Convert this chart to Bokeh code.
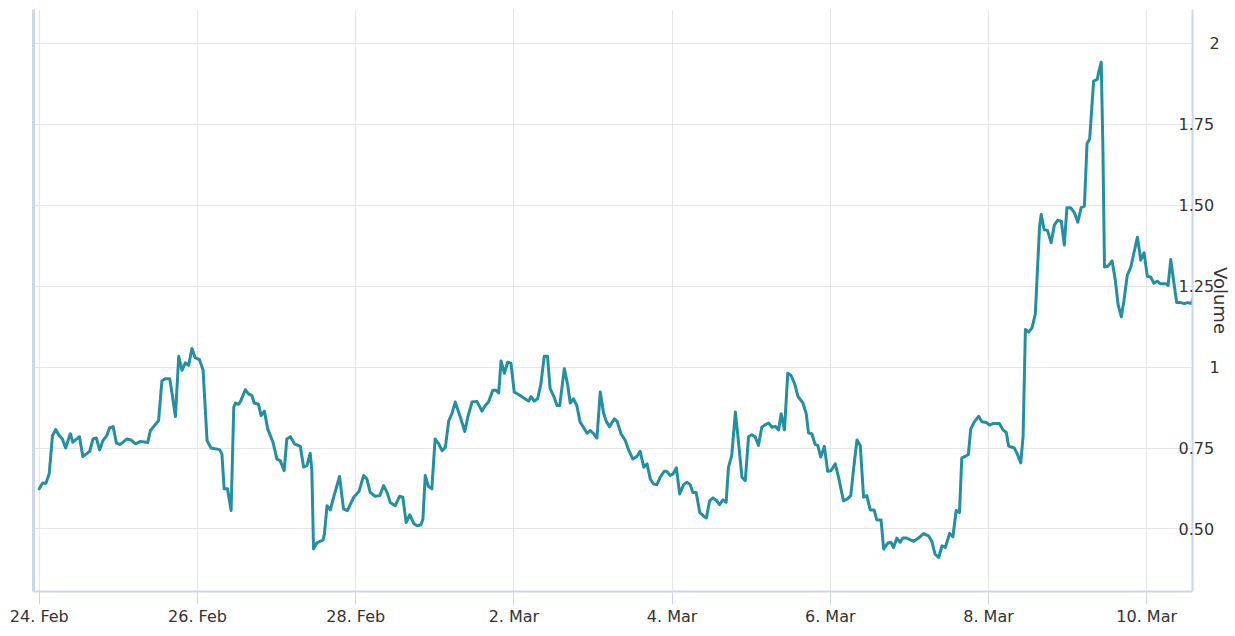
import pandas as pd
from bokeh.plotting import figure
from bokeh.models import Range1d, LinearAxis, FixedTicker
from bokeh.embed import file_html
from bokeh.resources import INLINE

# ---- data (hours since 24 Feb 00:00, volume) ----
start = pd.Timestamp("2023-02-24 00:00")

hours = [
    0, 1, 2, 3, 4, 5, 6, 7, 8, 9.4, 10.2, 12.2, 13.2, 14.3, 15.3, 16.3, 17.3, 18.3, 19.3, 20.5,
    21.3, 22.4, 23.4, 24.6, 26.6, 27.8, 29.2, 30.6, 32.9, 33.7, 34.7, 36.2, 37.2, 38.2, 39.6, 40.3,
    41.3, 42.3, 43.3, 44.3, 45.3, 46.3, 47.3, 48.6, 49.7, 50.9, 52.1, 54.7, 55.4, 56.1, 57.1, 58.2,
    59.0, 59.5, 60.5, 61.2, 62.5, 63.5, 64.5, 65.2, 66.5, 67.3, 68.3,
    69.3, 70.9, 72.1, 73.1, 74.3, 75.1, 76.2, 77.4, 79.2, 80.2, 81.2, 82.2, 82.7, 83.2, 84.2, 86.1,
    86.5, 87.3, 88.3, 89.3, 91.1, 92.3, 93.5, 95.4, 97.0, 98.4, 99.4, 100.4, 101.9, 103.3, 104.5,
    105.5, 106.5, 108.0, 109.3, 110.3, 111.3, 112.4, 113.6, 114.6, 115.8, 116.4, 117.1, 118.1, 119.1,
    120.1, 121.2, 122.2, 123.2, 124.2, 125.2, 126.2, 127.7, 129.1, 130.0, 131.3, 132.8, 134.3, 135.3,
    136.3,
    137.6, 138.6, 139.4, 140.1, 141.1, 142.1, 143.1, 144.1, 145.9, 147.8, 148.5, 149.2, 150.2, 151.2,
    152.2, 153.2, 154.2, 155.0, 156.0, 157.1, 157.9, 159.3, 160.3, 161.1, 162.1, 163.1, 164.1, 165.1,
    166.2, 167.2, 168.2, 169.2, 170.2, 171.2, 172.0, 173.0, 174.5, 175.3, 176.5, 177.8, 178.8, 180.1,
    181.3, 182.3, 183.4, 184.4, 185.4, 186.4, 187.4, 188.4, 189.6, 190.4, 191.4, 192.3, 193.3, 194.3,
    195.5, 196.5, 197.5, 198.3, 199.3, 200.4, 201.4, 202.4, 203.4, 204.4, 205.4, 206.4,
    207.4, 208.4, 209.1, 210.1, 211.2, 212.2, 213.2, 214.2, 215.2, 216.2, 217.2, 218.2, 219.2, 220.3,
    221.3, 222.3, 223.3, 224.3, 225.1, 226.1, 227.1, 228.1, 229.2, 230.2, 231.7, 232.7, 233.4, 234.4,
    235.4, 236.2, 237.1, 238.2, 239.2, 240.2, 241.5, 242.5, 244.0, 245.2, 246.2, 247.3, 248.1, 249.1,
    250.1, 251.1, 252.1, 253.3, 254.1, 255.4, 256.2, 257.4, 258.4, 259.2, 260.2, 261.2, 262.0, 263.2,
    265.3, 266.8, 268.3, 269.8, 270.8, 271.8, 272.9, 273.9, 274.9, 276.2, 277.2, 278.2, 279.2,
    279.9, 280.9, 281.9, 282.6, 283.6, 285.0, 286.0, 287.3, 288.3, 289.5, 291.3, 292.4, 293.4, 294.1,
    295.8, 296.6, 297.8, 298.5, 299.2, 300.2, 301.2, 302.2, 302.9, 303.5, 304.0, 304.9, 305.9, 307.0,
    308.0, 309.0, 310.1, 311.0, 311.8, 312.9, 314.1, 315.1, 316.1, 317.1, 317.9, 318.7, 319.9, 321.0,
    321.5, 322.2, 322.7, 323.2, 324.2, 325.5, 326.5, 327.3, 328.3, 329.1, 330.1, 331.2, 332.2, 333.2,
    334.2, 335.2, 336.2, 337.2, 338.2, 339.2, 340.2, 341.8, 342.5, 343.3, 344.1, 345.1, 346.3, 347.4,
    348.4, 349.6, 350.2,
]

volume = [
    0.624, 0.642, 0.641, 0.670, 0.789, 0.807, 0.789, 0.778, 0.750, 0.794, 0.768, 0.785, 0.724, 0.732,
    0.740, 0.778, 0.781, 0.744, 0.773, 0.789, 0.812, 0.816, 0.765, 0.761, 0.778, 0.775, 0.763, 0.770,
    0.767, 0.804, 0.816, 0.835, 0.957, 0.964, 0.964, 0.917, 0.847, 1.033, 0.990, 1.013, 1.005, 1.057,
    1.029, 1.023, 0.990, 0.773, 0.750, 0.745, 0.732, 0.624, 0.624, 0.557, 0.876, 0.889, 0.885, 0.897,
    0.930, 0.917, 0.912, 0.889, 0.885, 0.850, 0.864,
    0.809, 0.768, 0.716, 0.711, 0.680, 0.778, 0.785, 0.763, 0.755, 0.691, 0.696, 0.734, 0.680, 0.438,
    0.457, 0.466, 0.484, 0.572, 0.559, 0.598, 0.662, 0.562, 0.557, 0.598, 0.616, 0.665, 0.654, 0.613,
    0.601, 0.603, 0.634, 0.613, 0.582, 0.572, 0.601, 0.598, 0.520, 0.544, 0.517, 0.510, 0.513, 0.531,
    0.665, 0.631, 0.624, 0.778, 0.763, 0.742, 0.752, 0.833, 0.856, 0.892, 0.847, 0.801, 0.845, 0.892,
    0.894, 0.864, 0.881, 0.892,
    0.928, 0.928, 0.920, 1.019, 0.981, 1.015, 1.012, 0.923, 0.912, 0.899, 0.895, 0.909, 0.895, 0.902,
    0.948, 1.033, 1.033, 0.933, 0.912, 0.881, 0.881, 0.995, 0.946, 0.889, 0.902, 0.881, 0.830, 0.814,
    0.796, 0.804, 0.794, 0.781, 0.923, 0.858, 0.833, 0.816, 0.840, 0.833, 0.794, 0.773, 0.744, 0.716,
    0.724, 0.740, 0.691, 0.701, 0.654, 0.639, 0.637, 0.660, 0.678, 0.678, 0.665, 0.670, 0.689, 0.608,
    0.637, 0.644, 0.637, 0.613, 0.613, 0.551, 0.541, 0.534, 0.587, 0.596, 0.589, 0.575,
    0.590, 0.582, 0.690, 0.727, 0.861, 0.763, 0.660, 0.649, 0.785, 0.791, 0.785, 0.758, 0.814, 0.822,
    0.827, 0.814, 0.817, 0.806, 0.856, 0.806, 0.981, 0.974, 0.948, 0.909, 0.889, 0.856, 0.796, 0.794,
    0.761, 0.758, 0.722, 0.755, 0.678, 0.680, 0.701, 0.660, 0.587, 0.593, 0.603, 0.706, 0.775, 0.758,
    0.598, 0.603, 0.559, 0.559, 0.528, 0.528, 0.438, 0.456, 0.459, 0.443, 0.472, 0.459, 0.472, 0.472,
    0.462, 0.472, 0.486, 0.479, 0.462, 0.422, 0.412, 0.448, 0.443, 0.486, 0.476, 0.557, 0.551,
    0.719, 0.724, 0.730, 0.808, 0.829, 0.848, 0.831, 0.829, 0.821, 0.826, 0.826, 0.806, 0.798, 0.756,
    0.750, 0.735, 0.704, 0.787, 1.116, 1.108, 1.121, 1.163, 1.309, 1.434, 1.471, 1.424, 1.422, 1.384,
    1.439, 1.453, 1.450, 1.377, 1.492, 1.492, 1.476, 1.447, 1.492, 1.497, 1.690, 1.704, 1.883, 1.888,
    1.914, 1.941, 1.685, 1.309, 1.311, 1.328, 1.267, 1.194, 1.155, 1.205, 1.283, 1.309, 1.356, 1.401,
    1.330, 1.353, 1.280, 1.278, 1.259, 1.265, 1.257, 1.257, 1.252, 1.332, 1.272, 1.199, 1.199, 1.196,
    1.199, 1.196, 1.215,
]

x_tick_days = [0, 2, 4, 6, 8, 10, 12, 14]
x_tick_labels = ["24. Feb", "26. Feb", "28. Feb", "2. Mar", "4. Mar", "6. Mar", "8. Mar", "10. Mar"]
y_ticks = [0.5, 0.75, 1, 1.25, 1.5, 1.75, 2]
y_tick_labels = ["0.50", "0.75", "1", "1.25", "1.50", "1.75", "2"]
y_title = "Volume"

# ---- derived ----
times = [start + pd.Timedelta(hours=h) for h in hours]
def ms(ts):
    return float(ts.value // 10**6)
x_ticks_ms = [ms(start + pd.Timedelta(days=d)) for d in x_tick_days]

FONT = "DejaVu Sans"
TXT = "#333333"
AXC = "#ccd6eb"
GRID = "#e6e6e6"

x0 = start + pd.Timedelta(hours=-1.76)
x1 = start + pd.Timedelta(hours=349.9)

p = figure(width=1235, height=628, x_axis_type="datetime", y_axis_location="right",
           x_range=Range1d(x0, x1), y_range=Range1d(0.307, 2.104),
           output_backend="svg", toolbar_location=None,
           min_border_left=33, min_border_right=43, min_border_top=9, min_border_bottom=37)
p.outline_line_color = None
p.background_fill_color = "white"
p.border_fill_color = "white"

# x axis
xa = p.xaxis[0]
xa.ticker = FixedTicker(ticks=x_ticks_ms)
xa.major_label_overrides = {t: l for t, l in zip(x_ticks_ms, x_tick_labels)}
xa.axis_line_color = AXC
xa.axis_line_width = 2
xa.major_tick_line_color = AXC
xa.major_tick_in = 0
xa.major_tick_out = 13
xa.minor_tick_line_color = None
xa.major_label_standoff = 2
xa.major_label_text_font = FONT
xa.major_label_text_font_size = "16px"
xa.major_label_text_color = TXT

# right axis A: 4-character labels
long_t = [t for t, l in zip(y_ticks, y_tick_labels) if len(l) > 1]
short_t = [t for t, l in zip(y_ticks, y_tick_labels) if len(l) == 1]
ya = p.yaxis[0]
ya.ticker = FixedTicker(ticks=long_t)
ya.major_label_overrides = {t: l for t, l in zip(y_ticks, y_tick_labels)}
ya.axis_line_color = AXC
ya.axis_line_width = 2
ya.major_tick_line_color = None
ya.major_tick_in = 0
ya.major_tick_out = 0
ya.minor_tick_line_color = None
ya.minor_tick_out = 0
ya.minor_tick_in = 0
ya.major_label_standoff = -14
ya.major_label_text_font = FONT
ya.major_label_text_font_size = "16px"
ya.major_label_text_color = TXT

# right axis B: short labels + title
yb = LinearAxis(ticker=FixedTicker(ticks=short_t),
                major_label_overrides={t: l for t, l in zip(y_ticks, y_tick_labels)})
yb.axis_line_color = None
yb.major_tick_line_color = None
yb.major_tick_in = 0
yb.major_tick_out = 0
yb.minor_tick_line_color = None
yb.minor_tick_out = 0
yb.minor_tick_in = 0
yb.major_label_standoff = -8
yb.major_label_text_font = FONT
yb.major_label_text_font_size = "16px"
yb.major_label_text_color = TXT
yb.axis_label = y_title
yb.axis_label_standoff = -13
yb.axis_label_text_font = FONT
yb.axis_label_text_font_size = "18px"
yb.axis_label_text_font_style = "normal"
yb.axis_label_text_color = TXT
p.add_layout(yb, "right")

# left spine
yl = LinearAxis(ticker=FixedTicker(ticks=[]))
yl.axis_line_color = AXC
yl.axis_line_width = 3
yl.major_tick_line_color = None
yl.major_tick_out = 0
yl.major_tick_in = 0
yl.minor_tick_line_color = None
yl.minor_tick_out = 0
yl.minor_tick_in = 0
yl.major_label_text_font_size = "0px"
p.add_layout(yl, "left")

# grids
p.xgrid.ticker = FixedTicker(ticks=x_ticks_ms)
p.ygrid.ticker = FixedTicker(ticks=y_ticks)
p.xgrid.grid_line_color = GRID
p.ygrid.grid_line_color = GRID
p.xgrid.grid_line_width = 1
p.ygrid.grid_line_width = 1

p.line(times, volume, line_color="#228fa3", line_width=3, line_join="round", line_cap="round")

open("out.html", "w").write(file_html(p, INLINE))
